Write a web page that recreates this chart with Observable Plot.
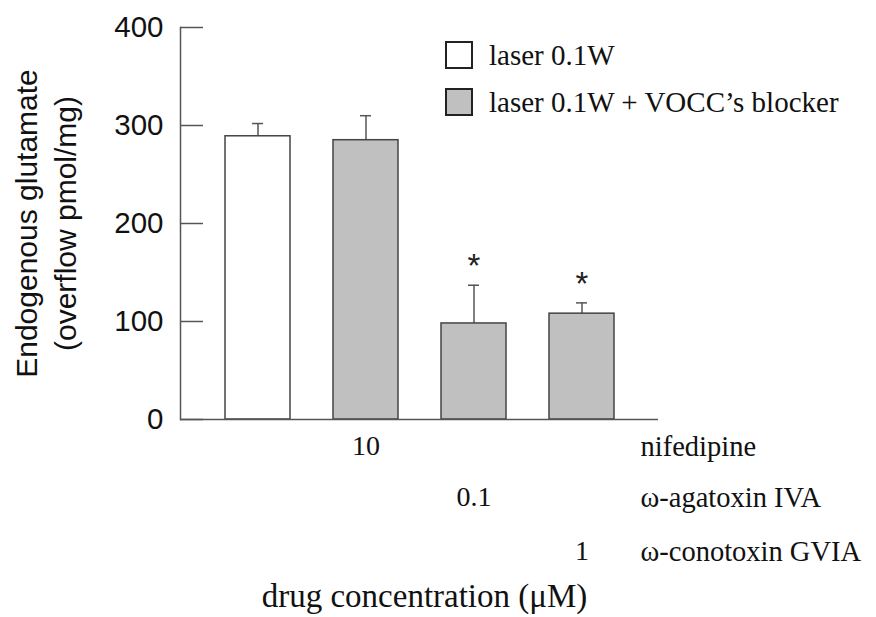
<!DOCTYPE html>
<html><head><meta charset="utf-8">
<script src="https://cdn.jsdelivr.net/npm/d3@7"></script>
<script src="https://cdn.jsdelivr.net/npm/@observablehq/plot@0.6"></script>
<style>
body{margin:0;background:#fff;}
#wrap{position:relative;width:876px;height:617px;background:#fff;}
#legend{position:absolute;left:445px;top:41px;font-family:"Liberation Serif","Times New Roman",serif;font-size:29px;color:#111;}
.item{display:flex;align-items:center;height:28px;margin-bottom:19px;white-space:nowrap;}
.sw{width:24px;height:24px;border:2px solid #222;margin-right:16px;}
</style></head>
<body><div id="wrap"><div id="chart"></div><div id="legend"></div></div>
<script>
const categories = ["control", "nifedipine", "ω-agatoxin IVA", "ω-conotoxin GVIA"];
const seriesOf = ["laser 0.1W", "laser 0.1W + VOCC’s blocker", "laser 0.1W + VOCC’s blocker", "laser 0.1W + VOCC’s blocker"];
const means = [289, 285, 98, 108];
const errors = [13, 25, 39, 11];
const significant = [false, false, true, true];
const drugs = ["nifedipine", "ω-agatoxin IVA", "ω-conotoxin GVIA"];
const concentrations = ["10", "0.1", "1"];
const yTicks = [0, 100, 200, 300, 400];
const legendLabels = ["laser 0.1W", "laser 0.1W + VOCC’s blocker"];
const legendColors = ["#ffffff", "#c0c0c0"];
const yLabel = "Endogenous glutamate\n(overflow pmol/mg)";
const xTitle = "drug concentration (μM)";

const data = categories.map((c, i) => ({cat: c, series: seriesOf[i], mean: means[i], top: means[i] + errors[i], sig: significant[i]}));
const rowDy = [27, 78, 132];
const serif = '"Liberation Serif","Times New Roman",serif';
const axisColor = "#555";

const rowMarks = [];
drugs.forEach((d, i) => {
  rowMarks.push(Plot.text([d], {x: v => v, text: () => concentrations[i], frameAnchor: "bottom", dy: rowDy[i], lineAnchor: "middle", fontFamily: serif, fontSize: 28, fill: "#111"}));
  rowMarks.push(Plot.text([d], {text: v => v, frameAnchor: "bottom-right", textAnchor: "start", dx: -18, dy: rowDy[i], lineAnchor: "middle", fontFamily: serif, fontSize: 28.5, fill: "#111"}));
});

const chart = Plot.plot({
  width: 876, height: 617,
  marginTop: 27, marginBottom: 198, marginLeft: 180, marginRight: 218,
  style: {fontFamily: '"Liberation Sans", Arial, sans-serif', background: "#fff", overflow: "visible"},
  x: {type: "band", domain: categories, padding: 0.4, axis: null},
  y: {domain: [0, 400], axis: null},
  color: {type: "ordinal", domain: legendLabels, range: legendColors},
  marks: [
    Plot.ruleX(data, {x: "cat", y1: "mean", y2: "top", stroke: axisColor, strokeWidth: 1.5}),
    Plot.tickY(data, {x: "cat", y: "top", stroke: axisColor, strokeWidth: 1.5, insetLeft: 27, insetRight: 27}),
    Plot.barY(data, {x: "cat", y: "mean", fill: "series", stroke: "#444", strokeWidth: 1.5}),
    Plot.tickY(yTicks, {y: d => d, stroke: axisColor, strokeWidth: 1.5, insetRight: 455}),
    Plot.axisY(yTicks, {tickSize: 0, tickPadding: 17, fontSize: 29.5, fill: "#111", label: null}),
    Plot.ruleY([0], {stroke: axisColor, strokeWidth: 1.5}),
    Plot.frame({anchor: "left", stroke: axisColor, strokeWidth: 1.5}),
    Plot.text([yLabel], {text: d => d, frameAnchor: "left", rotate: -90, dx: -136, textAnchor: "middle", lineAnchor: "middle", lineHeight: 1.3, fontSize: 30, fill: "#111"}),
    Plot.text(data.filter(d => d.sig), {x: "cat", y: "top", text: () => "*", dy: -8, lineAnchor: "bottom", fontSize: 33, fill: "#222"}),
    ...rowMarks,
    Plot.text([xTitle], {text: d => d, frameAnchor: "bottom", dx: 5, dy: 177, lineAnchor: "middle", fontFamily: serif, fontSize: 33, fill: "#111"})
  ]
});
document.getElementById("chart").appendChild(chart);

const legend = document.getElementById("legend");
legendLabels.forEach((l, i) => {
  const item = document.createElement("div");
  item.className = "item";
  const sw = document.createElement("span");
  sw.className = "sw";
  sw.style.background = legendColors[i];
  const t = document.createElement("span");
  t.textContent = l;
  item.appendChild(sw); item.appendChild(t);
  legend.appendChild(item);
});
</script>
</body></html>
